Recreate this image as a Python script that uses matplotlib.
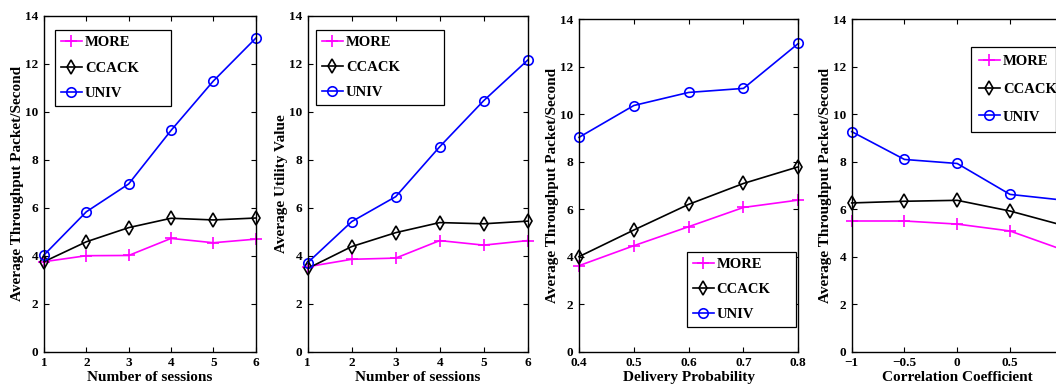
import matplotlib
matplotlib.use("Agg")
import matplotlib.pyplot as plt

plt.rcParams['font.family'] = ['Liberation Serif', 'DejaVu Serif']
plt.rcParams['font.weight'] = 'bold'
plt.rcParams['axes.labelweight'] = 'bold'

series_names = ["MORE", "CCACK", "UNIV"]

# Panel 1: throughput vs number of sessions
sessions = [1, 2, 3, 4, 5, 6]
p1_more = [3.75, 4.00, 4.01, 4.72, 4.54, 4.69]
p1_ccack = [3.75, 4.58, 5.17, 5.56, 5.49, 5.57]
p1_univ = [4.03, 5.83, 6.99, 9.22, 11.28, 13.06]

# Panel 2: utility vs number of sessions
p2_more = [3.54, 3.85, 3.90, 4.63, 4.44, 4.63]
p2_ccack = [3.47, 4.38, 4.96, 5.38, 5.33, 5.44]
p2_univ = [3.71, 5.42, 6.46, 8.54, 10.46, 12.15]

# Panel 3: throughput vs delivery probability
delivery = [0.4, 0.5, 0.6, 0.7, 0.8]
p3_more = [3.62, 4.46, 5.26, 6.07, 6.38]
p3_ccack = [4.00, 5.12, 6.20, 7.08, 7.78]
p3_univ = [9.02, 10.36, 10.91, 11.08, 12.97]

# Panel 4: throughput vs correlation coefficient
correlation = [-1, -0.5, 0, 0.5, 1]
p4_more = [5.50, 5.50, 5.37, 5.08, 4.29]
p4_ccack = [6.26, 6.33, 6.37, 5.92, 5.32]
p4_univ = [9.26, 8.09, 7.92, 6.62, 6.38]

colors = ["#FF00FF", "#000000", "#0000FF"]
markers = ["+", "d", "o"]

W, H = 1056, 384
fig = plt.figure(figsize=(W / 100, H / 100), dpi=100)

def px_axes(left, top, right, bottom):
    return fig.add_axes([left / W, 1 - bottom / H, (right - left) / W, (bottom - top) / H])

panels = [
    dict(box=(44, 15.7, 255.7, 351.7), x=sessions, ys=[p1_more, p1_ccack, p1_univ],
         xlim=(1, 6), xticks=sessions, xlabel="Number of sessions",
         ylabel="Average Throughput Packet/Second",
         leg=(55, 30, 170.7), ls=0.85, bp=0.4),
    dict(box=(307.7, 15.7, 527.7, 351.7), x=sessions, ys=[p2_more, p2_ccack, p2_univ],
         xlim=(1, 6), xticks=sessions, xlabel="Number of sessions",
         ylabel="Average Utility Value",
         leg=(316, 30, 444), ls=0.82, bp=0.4),
    dict(box=(579, 19, 798.3, 351.7), x=delivery, ys=[p3_more, p3_ccack, p3_univ],
         xlim=(0.4, 0.8), xticks=delivery, xlabel="Delivery Probability",
         ylabel="Average Throughput Packet/Second",
         leg=(686.7, 252.3, 795.7), ls=0.8, bp=0.4),
    dict(box=(851.7, 19, 1062.7, 351.7), x=correlation, ys=[p4_more, p4_ccack, p4_univ],
         xlim=(-1, 1), xticks=correlation, xlabel="Correlation Coefficient",
         ylabel="Average Throughput Packet/Second",
         leg=(970.7, 46.7, 1056), ls=1.0, bp=0.55),
]

for p in panels:
    ax = px_axes(*p["box"])
    l, t, r, b = p["box"]
    for name, y, c, m in zip(series_names, p["ys"], colors, markers):
        ms = 6.8 if m == "o" else (7 if m == "d" else 8)
        ax.plot(p["x"], y, color=c, marker=m, markersize=ms, linewidth=1.2,
                markerfacecolor="none", markeredgecolor=c, markeredgewidth=1.2,
                label=name, clip_on=False)
    ax.set_xlim(*p["xlim"])
    ax.set_ylim(0, 14)
    ax.set_xticks(p["xticks"])
    ax.set_xticklabels([f"{v:g}".replace("-", "\u2212") for v in p["xticks"]])
    ax.set_yticks(range(0, 15, 2))
    ax.tick_params(direction="in", length=3.5, width=0.8, top=True, right=True,
                   labelsize=9.5)
    ax.tick_params(axis="y", pad=4)
    ax.tick_params(axis="x", pad=4)
    for lbl in ax.get_xticklabels() + ax.get_yticklabels():
        lbl.set_fontweight("bold")
    for s in ax.spines.values():
        s.set_linewidth(1.0)
    ax.set_xlabel(p["xlabel"], fontsize=11, fontweight="bold", labelpad=1)
    ax.set_ylabel(p["ylabel"], fontsize=11, fontweight="bold", labelpad=1)
    ll, lt, lr = p["leg"]
    bx = (ll - l) / (r - l)
    by = 1 - (lt - t) / (b - t)
    bw = (lr - ll) / (r - l)
    leg = ax.legend(loc="upper left", bbox_to_anchor=(bx, by - 0.01, bw, 0.01),
                    mode="expand", borderaxespad=0, handlelength=1.45,
                    handletextpad=0.2, labelspacing=p["ls"], borderpad=p["bp"],
                    fancybox=False, framealpha=1, edgecolor="black",
                    prop=dict(weight="bold", size=10.5))
    leg.get_frame().set_linewidth(0.9)

fig.savefig("out.png", dpi=100)
